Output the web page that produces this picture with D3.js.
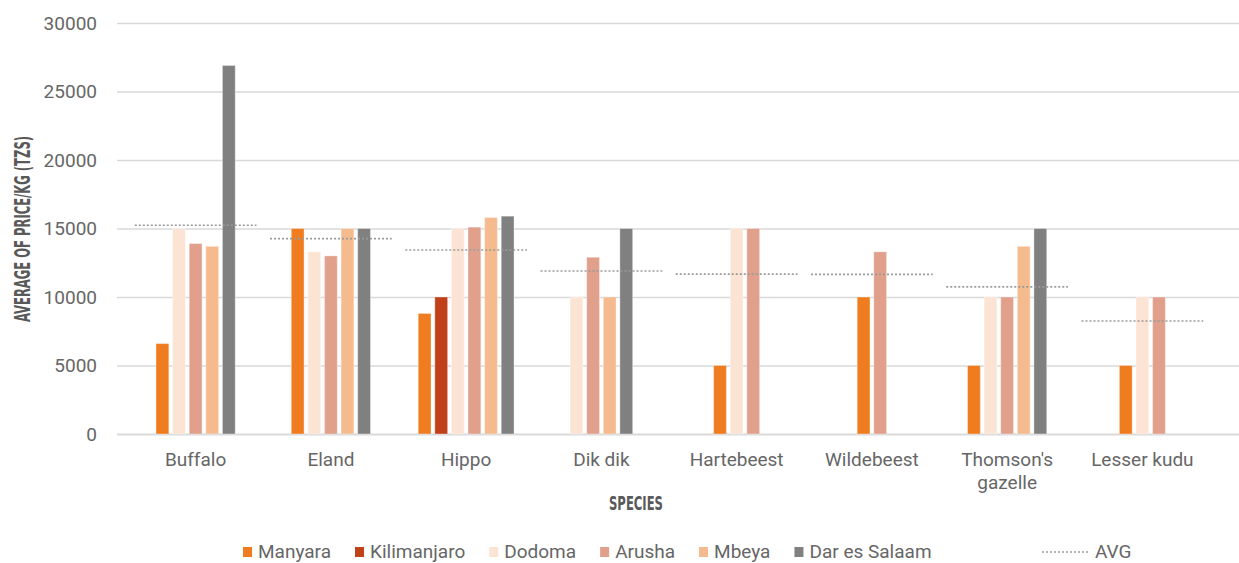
<!DOCTYPE html>
<html>
<head>
<meta charset="utf-8">
<script src="https://cdn.jsdelivr.net/npm/d3@7"></script>
<style>
  html, body { margin: 0; padding: 0; background: #fff; }
  svg { display: block; font-family: Roboto, "Noto Sans", sans-serif; }
</style>
</head>
<body>
<div id="chart"></div>
<script>
// --- data ---
const species = ["Buffalo", "Eland", "Hippo", "Dik dik", "Hartebeest", "Wildebeest", "Thomson's gazelle", "Lesser kudu"];
const regions = ["Manyara", "Kilimanjaro", "Dodoma", "Arusha", "Mbeya", "Dar es Salaam"];
const manyara     = [6600, 15000, 8800, null, 5000, 10000, 5000, 5000];
const kilimanjaro = [null, null, 10000, null, null, null, null, null];
const dodoma      = [15000, 13300, 15000, 10000, 15000, null, 10000, 10000];
const arusha      = [13900, 13000, 15100, 12900, 15000, 13300, 10000, 10000];
const mbeya       = [13700, 15000, 15800, 10000, null, null, 13700, null];
const darEsSalaam = [26900, 15000, 15900, 15000, null, null, 15000, null];
const avgPrice    = [15240, 14260, 13430, 11900, 11670, 11650, 10740, 8250];
const yTicks = [0, 5000, 10000, 15000, 20000, 25000, 30000];

const seriesValues = [manyara, kilimanjaro, dodoma, arusha, mbeya, darEsSalaam];
const colors = ["#f07c20", "#c0401a", "#fce4d4", "#e0a08c", "#f5bb8f", "#808080"];

// --- layout ---
const width = 1239, height = 563;
const plotLeft = 117, plotRight = 1239, plotTop = 23, plotBottom = 434;
const barStep = 16.6, barWidth = 12.8;

const svg = d3.select("#chart").append("svg").attr("width", width).attr("height", height);

const x = d3.scaleBand().domain(species).range([128, 1210]);
const y = d3.scaleLinear().domain([0, 30000]).range([plotBottom, plotTop]);
const color = d3.scaleOrdinal().domain(regions).range(colors);

// gridlines + y labels
const yAxis = svg.append("g")
    .attr("transform", `translate(${plotLeft},0)`)
    .call(d3.axisLeft(y).tickValues(yTicks).tickFormat(d3.format("d"))
        .tickSizeInner(-(plotRight - plotLeft)).tickSizeOuter(0).tickPadding(20));
yAxis.select(".domain").remove();
yAxis.selectAll(".tick line").attr("stroke", "#d9d9d9").attr("stroke-width", d => d === 0 ? 2.2 : 1.3);
yAxis.selectAll(".tick text").attr("fill", "#666").style("font-size", "19px").style("font-family", "Roboto");

// bars: present values of each species laid side by side around the band centre
species.forEach((sp, i) => {
    const present = regions.filter((r, k) => seriesValues[k][i] != null);
    const cx = x(sp) + x.bandwidth() / 2;
    const inner = d3.scaleBand().domain(present)
        .range([cx - present.length * barStep / 2, cx + present.length * barStep / 2])
        .paddingInner((barStep - barWidth) / barStep).paddingOuter((barStep - barWidth) / barStep / 2);
    svg.append("g").selectAll("rect")
        .data(present.map(r => ({ region: r, value: seriesValues[regions.indexOf(r)][i] })))
        .join("rect")
        .attr("x", d => inner(d.region))
        .attr("y", d => y(d.value))
        .attr("width", inner.bandwidth())
        .attr("height", d => y(0) - y(d.value))
        .attr("fill", d => color(d.region))
        .attr("stroke", "#ffffff").attr("stroke-opacity", 0.35).attr("stroke-width", 1);
});

// AVG dotted lines
svg.append("g").selectAll("line")
    .data(species.map((sp, i) => ({ sp, v: avgPrice[i] })))
    .join("line")
    .attr("x1", d => x(d.sp) + x.bandwidth() * 0.05)
    .attr("x2", d => x(d.sp) + x.bandwidth() * 0.95)
    .attr("y1", d => y(d.v)).attr("y2", d => y(d.v))
    .attr("stroke", "#9a9a9a").attr("stroke-width", 1.6).attr("stroke-dasharray", "2,2");

// x category labels (wrapped)
function wrap(textSel, maxW) {
    textSel.each(function () {
        const t = d3.select(this);
        const words = t.text().split(" ");
        t.text(null);
        let line = [];
        let tspan = t.append("tspan").attr("x", t.attr("x")).attr("dy", 0);
        words.forEach(w => {
            line.push(w);
            tspan.text(line.join(" "));
            if (tspan.node().getComputedTextLength() > maxW && line.length > 1) {
                line.pop();
                tspan.text(line.join(" "));
                line = [w];
                tspan = t.append("tspan").attr("x", t.attr("x")).attr("dy", 23).text(w);
            }
        });
    });
}
svg.append("g").selectAll("text")
    .data(species)
    .join("text")
    .attr("x", d => x(d) + x.bandwidth() / 2)
    .attr("y", 466)
    .attr("text-anchor", "middle")
    .attr("fill", "#666")
    .style("font-size", "19px")
    .text(d => d)
    .call(wrap, 125);

// axis titles
svg.append("text")
    .attr("x", 636).attr("y", 510)
    .attr("text-anchor", "middle")
    .attr("textLength", 54).attr("lengthAdjust", "spacingAndGlyphs")
    .attr("fill", "#595959")
    .style("font-family", "'DejaVu Sans Condensed', 'DejaVu Sans'").style("font-weight", "bold").style("font-size", "20px")
    .text("SPECIES");
svg.append("text")
    .attr("transform", "translate(30,229) rotate(-90)")
    .attr("text-anchor", "middle")
    .attr("textLength", 186).attr("lengthAdjust", "spacingAndGlyphs")
    .attr("fill", "#595959")
    .style("font-family", "'DejaVu Sans Condensed', 'DejaVu Sans'").style("font-weight", "bold").style("font-size", "21px")
    .text("AVERAGE OF PRICE/KG (TZS)");

// legend
const legend = svg.append("g");
let lx = 243;
regions.forEach(r => {
    const g = legend.append("g").attr("transform", `translate(${lx},0)`);
    g.append("rect").attr("x", 0).attr("y", 547).attr("width", 9).attr("height", 10).attr("fill", color(r));
    const t = g.append("text").attr("x", 15).attr("y", 558).attr("fill", "#666").style("font-size", "19px").text(r);
    lx += 15 + t.node().getComputedTextLength() + 24;
});
const avgItem = legend.append("g").attr("transform", "translate(1042,0)");
avgItem.append("line").attr("x1", 0).attr("x2", 48).attr("y1", 552).attr("y2", 552)
    .attr("stroke", "#9a9a9a").attr("stroke-width", 1.6).attr("stroke-dasharray", "2,2");
avgItem.append("text").attr("x", 53).attr("y", 558).attr("fill", "#666").style("font-size", "19px").text("AVG");
</script>
</body>
</html>
